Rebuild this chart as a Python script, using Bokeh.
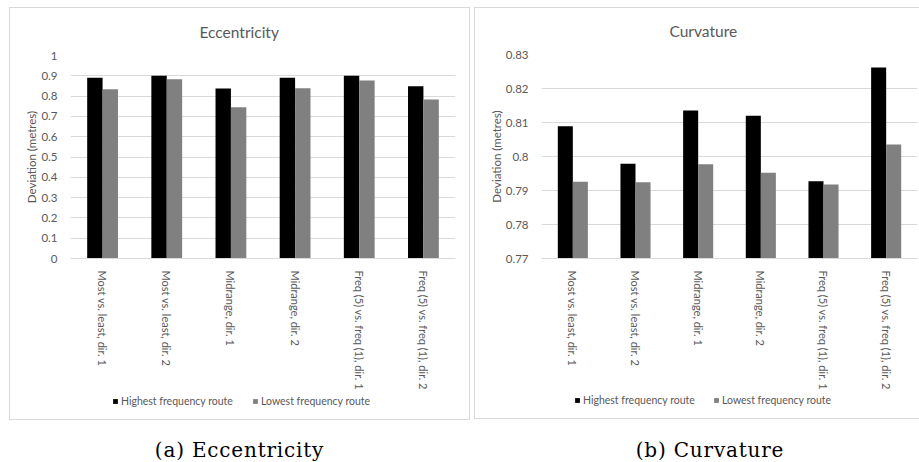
from bokeh.plotting import figure
from bokeh.models import (FactorRange, Range1d, FixedTicker, Legend, LegendItem,
                          Div, ColumnDataSource)
from bokeh.transform import dodge
from bokeh.layouts import row, column
from bokeh.embed import file_html
from bokeh.resources import INLINE

categories = ["Most vs. least, dir. 1", "Most vs. least, dir. 2",
              "Midrange, dir. 1", "Midrange, dir. 2",
              "Freq (5) vs. freq (1), dir. 1", "Freq (5) vs. freq (1), dir. 2"]
series_names = ["Highest frequency route", "Lowest frequency route"]

ecc_highest = [0.890, 0.900, 0.837, 0.890, 0.900, 0.849]
ecc_lowest = [0.834, 0.883, 0.745, 0.839, 0.877, 0.783]
curv_highest = [0.8089, 0.7979, 0.8135, 0.8120, 0.7927, 0.8262]
curv_lowest = [0.7926, 0.7924, 0.7977, 0.7952, 0.7918, 0.8035]

ecc_ticks = [0, 0.1, 0.2, 0.3, 0.4, 0.5, 0.6, 0.7, 0.8, 0.9, 1]
ecc_tick_labels = ["0", "0.1", "0.2", "0.3", "0.4", "0.5", "0.6", "0.7", "0.8", "0.9", "1"]
curv_ticks = [0.77, 0.78, 0.79, 0.8, 0.81, 0.82, 0.83]
curv_tick_labels = ["0.77", "0.78", "0.79", "0.8", "0.81", "0.82", "0.83"]

titles = ["Eccentricity", "Curvature"]
captions = ["(a) Eccentricity", "(b) Curvature"]

FONT = "Lato"
TXT = "#595959"
GRID = "#d9d9d9"
COLORS = ["#000000", "#808080"]


def add_bars(p, src, y0):
    r1 = p.vbar(x=dodge("cat", -0.12, range=p.x_range), top="high", bottom=y0,
                width=0.24, source=src, fill_color=COLORS[0], line_color=None)
    r2 = p.vbar(x=dodge("cat", 0.12, range=p.x_range), top="low", bottom=y0,
                width=0.24, source=src, fill_color=COLORS[1], line_color=None)
    return [r1, r2]


def make_chart(src, title, ticks, tick_labels, width, height, borders,
               title_offset):
    y0, y1 = ticks[0], ticks[-1]
    p = figure(x_range=FactorRange(*categories, range_padding=0),
               y_range=Range1d(y0, y1), width=width, height=height,
               output_backend="svg", toolbar_location=None,
               min_border_left=borders[0], min_border_right=borders[1],
               min_border_top=borders[2], min_border_bottom=borders[3],
               margin=0)
    p.outline_line_color = None
    p.background_fill_color = "white"
    p.border_fill_color = "white"

    p.title.text = title
    p.title.align = "left"
    p.title.offset = title_offset
    p.title.vertical_align = "top"
    p.title.standoff = 26
    p.title.text_font = FONT
    p.title.text_font_size = "15.5px"
    p.title.text_font_style = "normal"
    p.title.text_color = TXT

    add_bars(p, src, y0)

    p.xgrid.grid_line_color = None
    p.ygrid.grid_line_color = GRID
    p.ygrid.ticker = FixedTicker(ticks=ticks)

    ya = p.yaxis[0]
    ya.ticker = FixedTicker(ticks=ticks)
    ya.major_label_overrides = {t: l for t, l in zip(ticks, tick_labels)}
    ya.axis_line_color = None
    ya.major_tick_line_color = None
    ya.minor_tick_line_color = None
    ya.major_label_text_font = FONT
    ya.major_label_text_font_size = "11.5px"
    ya.major_label_text_color = TXT
    ya.major_label_standoff = 7
    ya.axis_label = "Deviation (metres)"
    ya.axis_label_text_font = FONT
    ya.axis_label_text_font_size = "11.5px"
    ya.axis_label_text_font_style = "normal"
    ya.axis_label_text_color = TXT
    ya.axis_label_standoff = 0

    xa = p.xaxis[0]
    xa.axis_line_color = GRID
    xa.major_tick_line_color = None
    xa.minor_tick_line_color = None
    xa.major_label_orientation = "vertical"
    xa.major_label_text_font = FONT
    xa.major_label_text_font_size = "11px"
    xa.major_label_text_color = TXT
    xa.major_label_standoff = 6
    return p


def make_legend(src, ticks, width, height, x, y, label_width):
    # legend strip: the series' bars sit outside its (empty) y range,
    # only the legend itself is visible
    lp = figure(width=width, height=height,
                x_range=FactorRange(*categories, range_padding=0),
                y_range=Range1d(ticks[-1] + 10, ticks[-1] + 11),
                output_backend="svg", toolbar_location=None,
                x_axis_location=None, y_axis_location=None,
                min_border=0, margin=0)
    lp.outline_line_color = None
    lp.grid.visible = False
    rs = add_bars(lp, src, ticks[0])
    legend = Legend(items=[LegendItem(label=n, renderers=[r])
                           for n, r in zip(series_names, rs)],
                    orientation="horizontal", location=(x, y))
    legend.glyph_width = 6
    legend.glyph_height = 6
    legend.label_standoff = 3
    legend.label_width = label_width
    legend.label_height = 16
    legend.spacing = 0
    legend.padding = 0
    legend.margin = 0
    legend.border_line_color = None
    legend.background_fill_alpha = 0
    legend.label_text_font = FONT
    legend.label_text_font_size = "10.5px"
    legend.label_text_color = TXT
    lp.add_layout(legend)
    return lp


box = {"outline": "1px solid #d9d9d9"}

src_a = ColumnDataSource(dict(cat=categories, high=ecc_highest, low=ecc_lowest))
src_b = ColumnDataSource(dict(cat=categories, high=curv_highest, low=curv_lowest))

pa = make_chart(src_a, titles[0], ecc_ticks, ecc_tick_labels,
                459, 384, (60, 14, 47, 128), 129)
la = make_legend(src_a, ecc_ticks, 459, 27, 42, 10, 131)
pb = make_chart(src_b, titles[1], curv_ticks, curv_tick_labels,
                444, 384, (66, 2, 46, 128), 128)
lb = make_legend(src_b, curv_ticks, 444, 26, 33, 10, 130)

ca_box = column(pa, la, margin=(8, 0, 0, 10), styles=box)
cb_box = column(pb, lb, margin=(8, 0, 0, 6), styles=box)

cap_style = {"font-family": "DejaVu Serif, serif", "font-size": "20px",
             "letter-spacing": "0.8px", "color": "#000000",
             "text-align": "center", "line-height": "28px"}
ca = Div(text=captions[0], width=459, height=30, styles=cap_style,
         margin=(17, 0, 0, 10))
cb = Div(text=captions[1], width=418, height=30, styles=cap_style,
         margin=(17, 0, 0, 32))

layout = column(row(ca_box, cb_box), row(ca, cb))

with open("out.html", "w") as f:
    f.write(file_html(layout, INLINE))
